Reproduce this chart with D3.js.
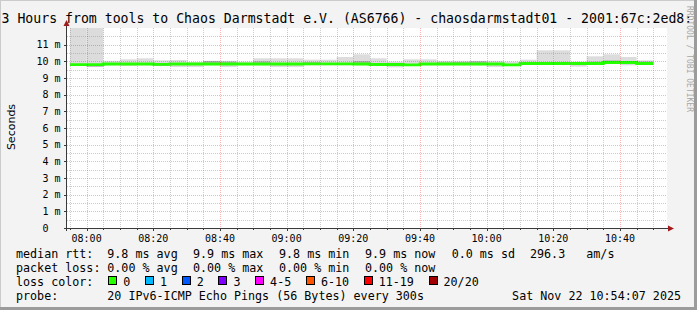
<!DOCTYPE html>
<html>
<head>
<meta charset="utf-8">
<script src="https://cdn.jsdelivr.net/npm/d3@7"></script>
<style>
  body { margin: 0; background: #f3f3f3; }
  svg { display: block; }
  text { font-family: "DejaVu Sans Mono", monospace; white-space: pre; fill: #000; }
</style>
</head>
<body>
<svg id="chart" width="697" height="310"></svg>
<script>
// median rtt per 5 minute step (ms), first step starts 07:55
const medianMs = [9.80, 9.80, 9.84, 9.84, 9.84, 9.82, 9.84, 9.84, 9.84, 9.84, 9.84, 9.84, 9.84, 9.84, 9.85, 9.85, 9.85, 9.84,
  9.81, 9.81, 9.79, 9.84, 9.84, 9.84, 9.84, 9.84, 9.79, 9.87, 9.87, 9.87, 9.87, 9.87, 9.93, 9.93, 9.87]
// light smoke (spread of all pings)
const smokeHiMs = [12.2, 12.2, 10.03, 10.12, 10.18, 10.06, 10.08, 9.96, 10.03, 10.03, 9.98, 10.18, 10.18, 10.18, 10.1, 10.1, 10.26, 10.42,
  10.18, 9.98, 10.12, 10.12, 10.03, 10.03, 10.03, 10.03, 9.98, 10.1, 10.66, 10.66, 9.98, 10.3, 10.42, 10.26, 10.06]
const smokeLoMs = [9.72, 9.66, 9.76, 9.72, 9.76, 9.72, 9.66, 9.66, 9.76, 9.66, 9.76, 9.76, 9.66, 9.66, 9.76, 9.76, 9.76, 9.76,
  9.72, 9.64, 9.74, 9.76, 9.76, 9.76, 9.76, 9.66, 9.72, 9.79, 9.79, 9.79, 9.68, 9.79, 9.86, 9.76, 9.8]
// darker smoke (where most pings cluster)
const denseHiMs = [9.84, 9.84, 9.88, 9.88, 9.88, 9.86, 9.88, 9.88, 10.02, 9.98, 9.88, 10.0, 9.88, 9.88, 9.96, 9.9, 9.9, 10.02,
  9.86, 9.86, 9.84, 9.88, 9.94, 9.96, 10.0, 9.9, 9.84, 9.92, 9.92, 9.92, 9.92, 9.98, 10.06, 9.98, 9.99]
const denseLoMs = [9.76, 9.68, 9.8, 9.8, 9.8, 9.72, 9.8, 9.8, 9.8, 9.8, 9.8, 9.8, 9.8, 9.8, 9.8, 9.8, 9.8, 9.8,
  9.77, 9.77, 9.75, 9.8, 9.8, 9.8, 9.8, 9.8, 9.75, 9.83, 9.83, 9.83, 9.83, 9.83, 9.84, 9.84, 9.83]

const yTicks = [0, 1, 2, 3, 4, 5, 6, 7, 8, 9, 10, 11]
const lossLabels = ['0', '1', '2', '3', '4-5', '6-10', '11-19', '20/20']
const lossColors = ['#26ff00', '#00b8ff', '#0059ff', '#7e00ff', '#ff00ff', '#ff5500', '#ff0000', '#a10000']

const titleText = '3 Hours from tools to Chaos Darmstadt e.V. (AS6766) - chaosdarmstadt01 - 2001:67c:2ed8:'
const rttItems = ['median rtt:', '9.8 ms avg', '9.9 ms max', '9.8 ms min', '9.9 ms now', '0.0 ms sd', '296.3   am/s']
const lossItems = ['packet loss:', '0.00 % avg', '0.00 % max', '0.00 % min', '0.00 % now']
const probeText = '20 IPv6-ICMP Echo Pings (56 Bytes) every 300s'
const dateText = 'Sat Nov 22 10:54:07 2025'

const svg = d3.select('#chart')
const W = 697, H = 310
const plot = { left: 67, right: 667, top: 28, bottom: 228 }

const tStart = new Date(2025, 10, 22, 7, 54, 7)
const tEnd = new Date(2025, 10, 22, 10, 54, 7)
const firstStep = new Date(2025, 10, 22, 7, 55, 0)
const steps = medianMs.map((m, i) => d3.timeMinute.offset(firstStep, 5 * i))

const x = d3.scaleTime().domain([tStart, tEnd]).range([plot.left, plot.right])
const y = d3.scaleLinear().domain([0, 12]).range([plot.bottom, plot.top])
const crisp = v => Math.round(v) + 0.5

// background + frame shading
svg.append('rect').attr('width', W).attr('height', H).attr('fill', '#f3f3f3')
svg.append('rect').attr('x', 0).attr('y', 0).attr('width', W).attr('height', 1).attr('fill', '#cbcbcb')
svg.append('rect').attr('x', 0).attr('y', 0).attr('width', 1).attr('height', H).attr('fill', '#cbcbcb')
svg.append('rect').attr('x', 0).attr('y', H - 3).attr('width', W).attr('height', 3).attr('fill', '#9b9b9b')
svg.append('rect').attr('x', W - 3).attr('y', 0).attr('width', 3).attr('height', H).attr('fill', '#9b9b9b')

svg.append('rect')
  .attr('x', plot.left).attr('y', plot.top)
  .attr('width', plot.right - plot.left).attr('height', plot.bottom - plot.top)
  .attr('fill', '#fff')

svg.append('clipPath').attr('id', 'clip')
  .append('rect')
  .attr('x', plot.left).attr('y', plot.top)
  .attr('width', plot.right - plot.left).attr('height', plot.bottom - plot.top)

const g = svg.append('g').attr('clip-path', 'url(#clip)')

// smoke
const stepW = d => x(d3.timeMinute.offset(d, 5)) - x(d)
g.append('g').selectAll('rect')
  .data(steps)
  .join('rect')
    .attr('x', d => x(d))
    .attr('width', stepW)
    .attr('y', (d, i) => y(smokeHiMs[i]))
    .attr('height', (d, i) => y(smokeLoMs[i]) - y(smokeHiMs[i]))
    .attr('fill', '#dcdcdc')
g.append('g').selectAll('rect')
  .data(steps)
  .join('rect')
    .attr('x', d => x(d))
    .attr('width', stepW)
    .attr('y', (d, i) => y(denseHiMs[i]))
    .attr('height', (d, i) => y(denseLoMs[i]) - y(denseHiMs[i]))
    .attr('fill', '#b2b2b2')

// grid
const minorY = d3.range(0.5, 12, 0.5).filter(v => v % 1 !== 0)
const majorY = yTicks.filter(v => v > 0)
const minorX = d3.timeMinute.every(5).range(tStart, tEnd).filter(d => d.getMinutes() % 20 !== 0)
const majorX = d3.timeMinute.every(20).range(tStart, tEnd)

const grid = svg.append('g').attr('fill', 'none').attr('stroke-dasharray', '1,1')
grid.selectAll('.minor-y').data(minorY).join('line')
  .attr('x1', plot.left).attr('x2', plot.right)
  .attr('y1', d => crisp(y(d))).attr('y2', d => crisp(y(d)))
  .attr('stroke', 'rgba(143,143,143,0.45)')
grid.selectAll('.minor-x').data(minorX).join('line')
  .attr('y1', plot.top).attr('y2', plot.bottom)
  .attr('x1', d => crisp(x(d))).attr('x2', d => crisp(x(d)))
  .attr('stroke', 'rgba(143,143,143,0.45)')
grid.selectAll('.major-y').data(majorY).join('line')
  .attr('x1', plot.left).attr('x2', plot.right)
  .attr('y1', d => crisp(y(d))).attr('y2', d => crisp(y(d)))
  .attr('stroke', 'rgba(255,0,0,0.3)')
grid.selectAll('.major-x').data(majorX).join('line')
  .attr('y1', plot.top).attr('y2', plot.bottom)
  .attr('x1', d => crisp(x(d))).attr('x2', d => crisp(x(d)))
  .attr('stroke', 'rgba(255,0,0,0.3)')

// median line, coloured by loss (all 0 here)
const pts = steps.map((d, i) => [d, medianMs[i]])
pts.push([d3.timeMinute.offset(steps[steps.length - 1], 5), medianMs[medianMs.length - 1]])
g.append('path')
  .datum(pts)
  .attr('fill', 'none')
  .attr('stroke', lossColors[0])
  .attr('stroke-width', 2.8)
  .attr('d', d3.line().x(d => x(d[0])).y(d => y(d[1])).curve(d3.curveStepAfter))

// axes
const axisCol = '#3a3a3a'
svg.append('line').attr('x1', plot.left - 3).attr('x2', plot.right + 2)
  .attr('y1', plot.bottom + 0.5).attr('y2', plot.bottom + 0.5).attr('stroke', axisCol)
svg.append('line').attr('x1', plot.left - 0.5).attr('x2', plot.left - 0.5)
  .attr('y1', plot.bottom + 3).attr('y2', plot.top - 4).attr('stroke', axisCol)
svg.append('path').attr('d', `M${plot.left - 3.5},${plot.top - 2} L${plot.left - 0.5},${plot.top - 8} L${plot.left + 2.5},${plot.top - 2}Z`)
  .attr('fill', '#a01c1c')
svg.append('path').attr('d', `M${plot.right + 1},${plot.bottom - 2.5} L${plot.right + 7},${plot.bottom + 0.5} L${plot.right + 1},${plot.bottom + 3.5}Z`)
  .attr('fill', '#a01c1c')

// ticks
svg.append('g').selectAll('line').data(majorY).join('line')
  .attr('x1', plot.left - 3).attr('x2', plot.left)
  .attr('y1', d => crisp(y(d))).attr('y2', d => crisp(y(d))).attr('stroke', axisCol)
svg.append('g').selectAll('line').data(majorX.concat(minorX)).join('line')
  .attr('y1', plot.bottom).attr('y2', d => plot.bottom + (d.getMinutes() % 20 === 0 ? 3 : 2))
  .attr('x1', d => crisp(x(d))).attr('x2', d => crisp(x(d))).attr('stroke', axisCol)

// tick labels
svg.append('g').selectAll('text').data(yTicks).join('text')
  .attr('x', 36.5).attr('y', d => y(d) + 3.5)
  .attr('font-size', '10px')
  .text(d => d === 0 ? ' 0  ' : (d < 10 ? ' ' : '') + d + ' m')
svg.append('g').selectAll('text').data(majorX).join('text')
  .attr('x', d => x(d)).attr('y', 241.5)
  .attr('text-anchor', 'middle')
  .attr('font-size', '10px')
  .text(d3.timeFormat('%H:%M'))

// title, unit label, watermark
svg.append('text').attr('x', 1.5).attr('y', 23).attr('font-size', '13.2px').text(titleText)
svg.append('text')
  .attr('transform', 'translate(14.5,127) rotate(-90)')
  .attr('text-anchor', 'middle')
  .style('font-family', '"DejaVu Sans", sans-serif')
  .attr('font-size', '11px')
  .text('Seconds')
svg.append('text')
  .attr('transform', 'translate(686.5,6) rotate(90)')
  .attr('font-size', '9px')
  .attr('textLength', 106)
  .attr('lengthAdjust', 'spacingAndGlyphs')
  .style('fill', '#a6a6a6')
  .text('RRDTOOL / TOBI OETIKER')

// legend: each entry is its own segment, like rrdtool's GPRINT items
const lx = 16, adv = 7.04, fs = '11.7px'
const colX = [16, 107.3, 193, 279, 365, 451.7, 530]
rttItems.forEach((s, i) => {
  svg.append('text').attr('x', colX[i]).attr('y', 257.5).attr('font-size', fs).text(s)
})
lossItems.forEach((s, i) => {
  svg.append('text').attr('x', colX[i]).attr('y', 271.5).attr('font-size', fs).text(s)
})
svg.append('text').attr('x', lx).attr('y', 285.5).attr('font-size', fs).text('loss color:')
let bx = 108.3
lossLabels.forEach((lab, i) => {
  svg.append('rect').attr('x', Math.round(bx) + 0.5).attr('y', 276.5).attr('width', 8).attr('height', 8)
    .attr('fill', lossColors[i]).attr('stroke', '#000')
  svg.append('text').attr('x', bx + 15).attr('y', 285.5).attr('font-size', fs).text(lab)
  bx = bx + 15 + lab.length * adv + 14.66
})
svg.append('text').attr('x', lx).attr('y', 299.5).attr('font-size', fs).text('probe:')
svg.append('text').attr('x', colX[1]).attr('y', 299.5).attr('font-size', fs).text(probeText)
svg.append('text').attr('x', 681).attr('y', 299.5).attr('text-anchor', 'end').attr('font-size', fs).text(dateText)
</script>
</body>
</html>
